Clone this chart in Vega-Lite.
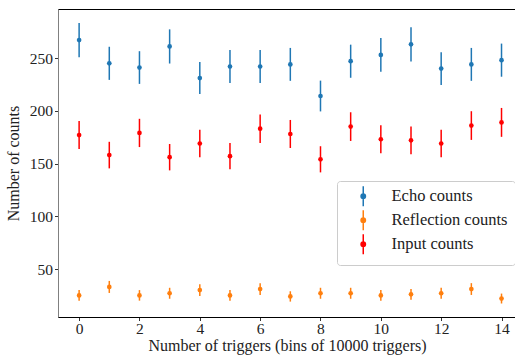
{
  "$schema": "https://vega.github.io/schema/vega-lite/v6.json",
  "width": 458,
  "height": 308,
  "autosize": {"type": "none"},
  "padding": {"left": 58, "top": 9, "right": 0, "bottom": 41},
  "background": "white",
  "config": {
    "view": {"stroke": "black", "strokeWidth": 1},
    "font": "Liberation Serif",
    "axis": {
      "labelFont": "Liberation Serif",
      "titleFont": "Liberation Serif",
      "labelFontSize": 15.5,
      "titleFontSize": 16,
      "titleFontWeight": "normal",
      "labelColor": "#222",
      "titleColor": "#222",
      "grid": false,
      "tickColor": "black",
      "tickSize": 3.5,
      "tickWidth": 0.8
    }
  },
  "data": {
    "values": [
      {"bin": 0, "series": "Echo counts", "count": 267, "err": 16.3},
      {"bin": 1, "series": "Echo counts", "count": 245, "err": 15.7},
      {"bin": 2, "series": "Echo counts", "count": 241, "err": 15.5},
      {"bin": 3, "series": "Echo counts", "count": 261, "err": 16.2},
      {"bin": 4, "series": "Echo counts", "count": 231, "err": 15.2},
      {"bin": 5, "series": "Echo counts", "count": 242, "err": 15.6},
      {"bin": 6, "series": "Echo counts", "count": 242, "err": 15.6},
      {"bin": 7, "series": "Echo counts", "count": 244, "err": 15.6},
      {"bin": 8, "series": "Echo counts", "count": 214, "err": 14.6},
      {"bin": 9, "series": "Echo counts", "count": 247, "err": 15.7},
      {"bin": 10, "series": "Echo counts", "count": 253, "err": 15.9},
      {"bin": 11, "series": "Echo counts", "count": 263, "err": 16.2},
      {"bin": 12, "series": "Echo counts", "count": 240, "err": 15.5},
      {"bin": 13, "series": "Echo counts", "count": 244, "err": 15.6},
      {"bin": 14, "series": "Echo counts", "count": 248, "err": 15.7},
      {"bin": 0, "series": "Reflection counts", "count": 25, "err": 5.0},
      {"bin": 1, "series": "Reflection counts", "count": 33, "err": 5.7},
      {"bin": 2, "series": "Reflection counts", "count": 25, "err": 5.0},
      {"bin": 3, "series": "Reflection counts", "count": 27, "err": 5.2},
      {"bin": 4, "series": "Reflection counts", "count": 30, "err": 5.5},
      {"bin": 5, "series": "Reflection counts", "count": 25, "err": 5.0},
      {"bin": 6, "series": "Reflection counts", "count": 31, "err": 5.6},
      {"bin": 7, "series": "Reflection counts", "count": 24, "err": 4.9},
      {"bin": 8, "series": "Reflection counts", "count": 27, "err": 5.2},
      {"bin": 9, "series": "Reflection counts", "count": 27, "err": 5.2},
      {"bin": 10, "series": "Reflection counts", "count": 25, "err": 5.0},
      {"bin": 11, "series": "Reflection counts", "count": 26, "err": 5.1},
      {"bin": 12, "series": "Reflection counts", "count": 27, "err": 5.2},
      {"bin": 13, "series": "Reflection counts", "count": 31, "err": 5.6},
      {"bin": 14, "series": "Reflection counts", "count": 22, "err": 4.7},
      {"bin": 0, "series": "Input counts", "count": 177, "err": 13.3},
      {"bin": 1, "series": "Input counts", "count": 158, "err": 12.6},
      {"bin": 2, "series": "Input counts", "count": 179, "err": 13.4},
      {"bin": 3, "series": "Input counts", "count": 156, "err": 12.5},
      {"bin": 4, "series": "Input counts", "count": 169, "err": 13.0},
      {"bin": 5, "series": "Input counts", "count": 157, "err": 12.5},
      {"bin": 6, "series": "Input counts", "count": 183, "err": 13.5},
      {"bin": 7, "series": "Input counts", "count": 178, "err": 13.3},
      {"bin": 8, "series": "Input counts", "count": 154, "err": 12.4},
      {"bin": 9, "series": "Input counts", "count": 185, "err": 13.6},
      {"bin": 10, "series": "Input counts", "count": 173, "err": 13.2},
      {"bin": 11, "series": "Input counts", "count": 172, "err": 13.1},
      {"bin": 12, "series": "Input counts", "count": 169, "err": 13.0},
      {"bin": 13, "series": "Input counts", "count": 186, "err": 13.6},
      {"bin": 14, "series": "Input counts", "count": 189, "err": 13.7}
    ]
  },
  "encoding": {
    "x": {
      "field": "bin",
      "type": "quantitative",
      "scale": {"domain": [-0.7, 14.48], "nice": false, "zero": false},
      "axis": {
        "title": "Number of triggers (bins of 10000 triggers)",
        "values": [0, 2, 4, 6, 8, 10, 12, 14],
        "domainColor": "black",
        "labelPadding": 1,
        "titlePadding": 0
      }
    },
    "color": {
      "field": "series",
      "type": "nominal",
      "scale": {
        "domain": ["Echo counts", "Reflection counts", "Input counts"],
        "range": ["#1f77b4", "#ff7f0e", "#ff0000"]
      },
      "legend": {
        "title": null,
        "orient": "none",
        "legendX": 279,
        "legendY": 172,
        "padding": 7,
        "strokeColor": "#cccccc",
        "fillColor": "rgba(255,255,255,0.8)",
        "cornerRadius": 3,
        "symbolType": "M2.2,-2L2.2,2M1.76,0a0.44,0.44 0 1,0 0.88,0a0.44,0.44 0 1,0 -0.88,0",
        "symbolSize": 100,
        "symbolStrokeWidth": 1.5,
        "labelOffset": 31,
        "labelFont": "Liberation Serif",
        "labelFontSize": 16.5,
        "labelColor": "#222",
        "rowPadding": -3,
        "encode": {
          "symbols": {
            "update": {
              "fill": {"scale": "color", "field": "value"},
              "stroke": {"scale": "color", "field": "value"},
              "opacity": {"value": 1}
            }
          }
        }
      }
    }
  },
  "layer": [
    {
      "mark": {"type": "errorbar", "thickness": 1.5},
      "encoding": {
        "y": {
          "field": "count",
          "type": "quantitative",
          "scale": {"domain": [4.5, 296.5], "nice": false, "zero": false},
          "axis": {
            "title": "Number of counts",
            "values": [50, 100, 150, 200, 250],
            "domainColor": "#808080",
            "labelPadding": 2,
            "titlePadding": 8
          }
        },
        "yError": {"field": "err"}
      }
    },
    {
      "mark": {"type": "point", "filled": true, "size": 22, "opacity": 1},
      "encoding": {
        "y": {"field": "count", "type": "quantitative"}
      }
    }
  ]
}
